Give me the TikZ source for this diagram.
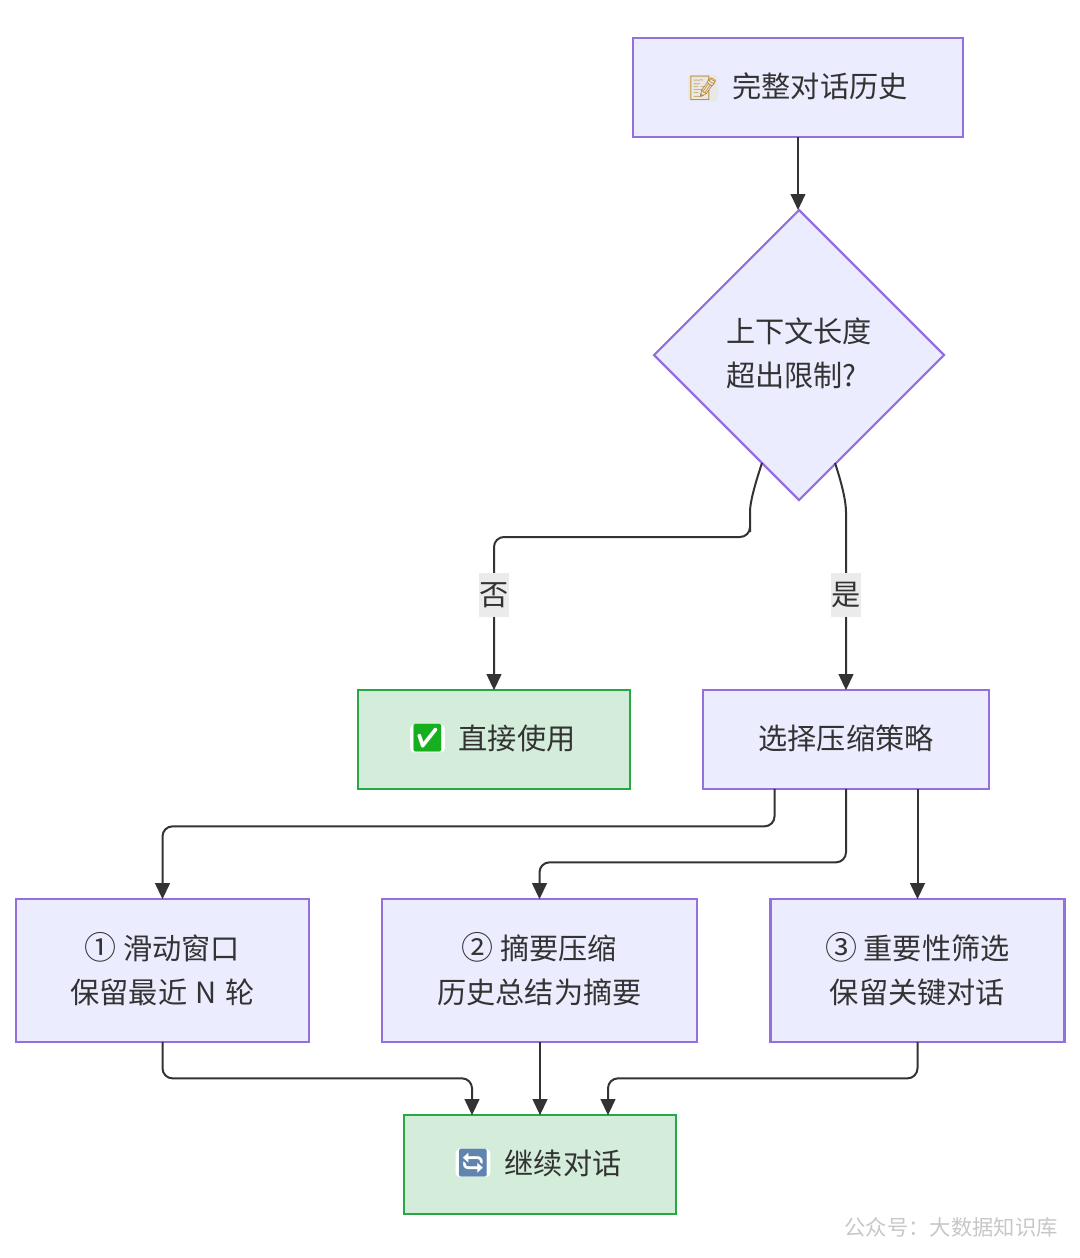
\documentclass[tikz,border=0pt]{standalone}
\usepackage{fontspec}
\usetikzlibrary{shapes.geometric,arrows.meta}
\setmainfont{Noto Sans CJK SC}
\newfontfamily\emojifont{Noto Emoji}
\definecolor{lav}{HTML}{ECECFF}
\definecolor{lavb}{HTML}{9370DB}
\definecolor{grn}{HTML}{D4EDDA}
\definecolor{grnb}{HTML}{28A745}
\definecolor{ink}{HTML}{333333}
\definecolor{pencil}{HTML}{C08A2E}
\definecolor{okgreen}{HTML}{16B01E}
\definecolor{loopblue}{HTML}{5F84AE}
\newcommand{\numcirc}[1]{{\fontsize{24pt}{33pt}\selectfont #1}}
\tikzset{
  x=0.75pt,y=-0.75pt,
  plain/.style={inner sep=0pt,outer sep=0pt,text=ink,align=center,font=\fontsize{21.9pt}{33pt}\selectfont,line width=1.6pt},
  base/.style={plain,execute at end node={\rule[-3.7pt]{0pt}{1pt}}},
  lavbox/.style={base,rectangle,draw=lavb,fill=lav},
  grnbox/.style={base,rectangle,draw=grnb,fill=grn},
  edge/.style={draw=ink,line width=1.5pt,rounded corners=7.5pt,-{Triangle[length=12pt,width=11pt]}},
  edgelabel/.style={plain,fill=black!8,minimum width=21pt,minimum height=33pt},
  icon/.style={inner sep=0pt,outer sep=0pt,rounded corners=3pt},
}
\begin{document}
\begin{tikzpicture}
\useasboundingbox (0,0) rectangle (1080,1258);
% nodes
\node[lavbox,minimum width=248pt,minimum height=74pt] (start) at (798,87.5) {\hspace{33pt}完整对话历史};
\node[base,diamond,aspect=1,draw=lavb,fill=lav,minimum width=217.5pt,minimum height=217.5pt,align=left] (dec) at (799,355) {上下文长度\\超出限制?};
\node[grnbox,minimum width=203.5pt,minimum height=74pt] (direct) at (494,739.5) {\hspace{34.5pt}直接使用};
\node[lavbox,minimum width=214pt,minimum height=74pt] (sel) at (846,739.5) {选择压缩策略};
\node[lavbox,minimum width=219.5pt,minimum height=107pt] (a) at (162.5,970.5) {\numcirc{①} 滑动窗口\\保留最近\hspace{6.4pt}N\hspace{6.4pt}轮};
\node[lavbox,minimum width=236pt,minimum height=107pt] (b) at (539.5,970.5) {\numcirc{②} 摘要压缩\\历史总结为摘要};
\node[lavbox,minimum width=220.5pt,minimum height=107pt] (c) at (917.5,970.5) {\numcirc{③} 重要性筛选\\保留关键对话};
\node[grnbox,minimum width=203.5pt,minimum height=74pt] (cont) at (540,1164.5) {\hspace{34.5pt}继续对话};
% icons
\node[icon,fill=black!9,minimum width=18pt,minimum height=20pt,font=\emojifont\fontsize{18pt}{18pt}\selectfont,text=pencil] (i1) at (703,88) {📝};
\node[icon,fill=white,font=\emojifont\fontsize{20.5pt}{20.5pt}\selectfont,text=okgreen] (i2) at (427.5,738.5) {✅};
\node[icon,fill=white,font=\emojifont\fontsize{20.5pt}{20.5pt}\selectfont,text=loopblue] (i3) at (473,1163) {🔄};
% connector ends
\coordinate (dl) at (762,463);
\coordinate (dr) at (835,463);
% connectors
\draw[edge] (start.south) -- (start.south |- dec.north);
\draw[edge] (dl) .. controls (754,487) and (750,503) .. (750,522) -- (750,537) -- (494,537) -- (direct.north);
\draw[edge] (dr) .. controls (843,487) and (846,503) .. (846,522) -- (sel.north);
\draw[edge] ([xshift=-53.6pt]sel.south) -- ++(0,37.5) -| (a.north);
\draw[edge] (sel.south) -- ++(0,73.5) -| (b.north);
\draw[edge] (c.north |- sel.south) -- (c.north);
\draw[edge] (a.south) -- ++(0,36.5) -| ([xshift=-51pt]cont.north);
\draw[edge] (cont.north |- b.south) -- (cont.north);
\draw[edge] (c.south) -- ++(0,36.5) -| ([xshift=51pt]cont.north);
% labels
\node[edgelabel] (lno) at (494,595) {否};
\node[edgelabel] (lyes) at (846,595) {是};
\node[inner sep=0pt,text=black!22,font=\fontsize{16pt}{16pt}\selectfont] (wm) at (951,1227) {公众号：大数据知识库};
\end{tikzpicture}
\end{document}
